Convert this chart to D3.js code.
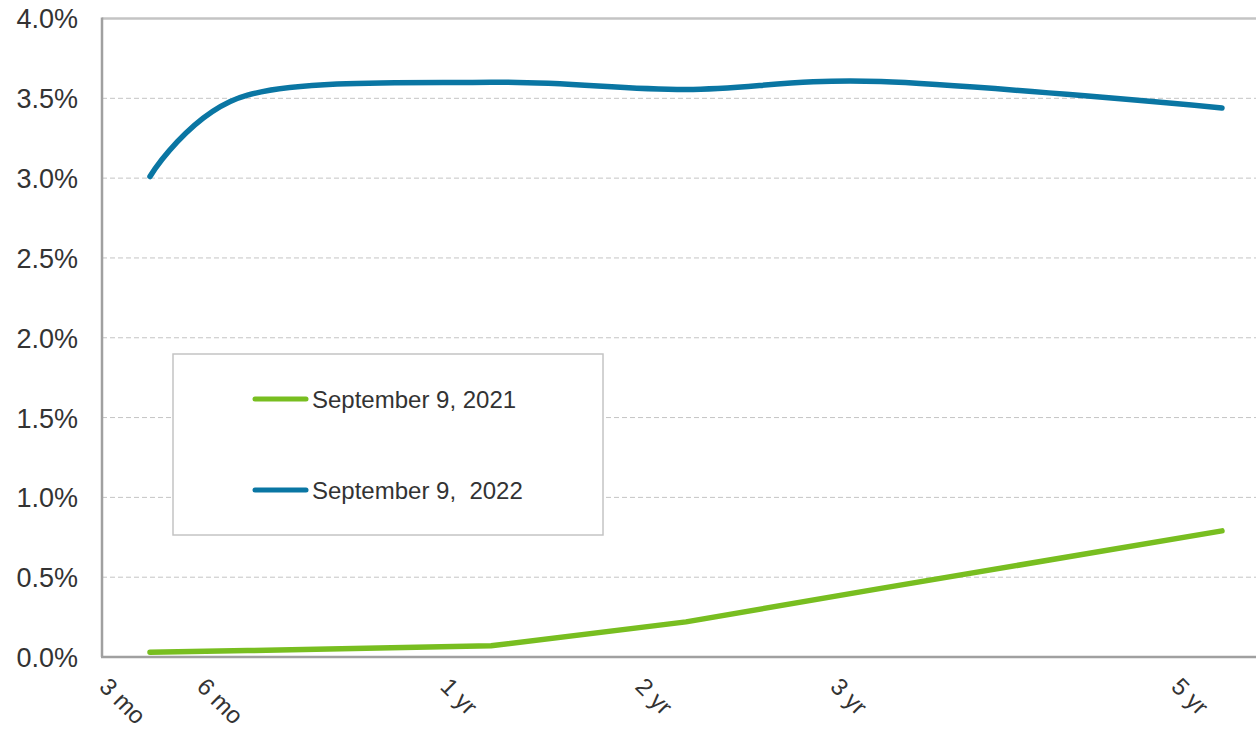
<!DOCTYPE html>
<html>
<head>
<meta charset="utf-8">
<script src="https://cdn.jsdelivr.net/npm/d3@7"></script>
<style>
  body { margin: 0; background: #fff; }
  text { font-family: "Liberation Sans", Arial, sans-serif; fill: #333; }
</style>
</head>
<body>
<div id="chart"></div>
<script>
// Tenors and where they sit on the chart's x axis
var tenors = ["3 mo", "6 mo", "1 yr", "2 yr", "3 yr", "5 yr"];
var tenorAxisValue = [0, 0.5, 1.75, 2.75, 3.75, 5.5];

// Yields in percent
var yields2021 = [0.03, 0.04, 0.07, 0.22, 0.43, 0.79];
var yields2022 = [3.01, 3.52, 3.60, 3.555, 3.605, 3.44];

var yTicks = [0, 0.5, 1, 1.5, 2, 2.5, 3, 3.5, 4];

var seriesNames = ["September 9, 2021", "September 9,  2022"];
var seriesColors = ["#78be20", "#0a76a3"];

var width = 1256, height = 731;
var plotLeft = 102, plotRight = 1256, plotTop = 18.5, plotBottom = 657;

var svg = d3.select('#chart')
    .append('svg')
    .attr('width', width)
    .attr('height', height);

var x = d3.scaleLinear()
    .domain([0, 5.5])
    .range([150, 1222]);

var y = d3.scaleLinear()
    .domain([0, 4])
    .range([plotBottom, plotTop]);

// gridlines
svg.append('g')
  .selectAll('line')
  .data(yTicks.filter(function(d){ return d > 0; }))
  .enter().append('line')
    .attr('x1', plotLeft)
    .attr('x2', plotRight)
    .attr('y1', function(d){ return y(d); })
    .attr('y2', function(d){ return y(d); })
    .style('stroke', '#c4c4c4')
    .style('stroke-width', function(d){ return d === 4 ? 2.5 : 1; })
    .style('stroke-dasharray', function(d){ return d === 4 ? null : '5,3'; });

// y axis labels
var yAxis = d3.axisLeft(y)
    .tickValues(yTicks)
    .tickSize(0)
    .tickPadding(24)
    .tickFormat(function(d){ return d3.format('.1f')(d) + '%'; });

var yg = svg.append('g')
    .attr('transform', 'translate(' + plotLeft + ',0)')
    .call(yAxis);
yg.select('.domain').remove();
yg.selectAll('text')
    .style('font-size', '27px')
    .style('fill', '#333')
    .attr('dy', '0.35em');

// axis lines
svg.append('line')
    .attr('x1', plotLeft).attr('x2', plotLeft)
    .attr('y1', plotTop - 1).attr('y2', plotBottom)
    .style('stroke', '#a0a0a0').style('stroke-width', 2.5);
svg.append('line')
    .attr('x1', plotLeft - 1).attr('x2', plotRight)
    .attr('y1', plotBottom).attr('y2', plotBottom)
    .style('stroke', '#a0a0a0').style('stroke-width', 2.5);

// x labels, rotated
svg.append('g')
  .selectAll('text')
  .data(tenors)
  .enter().append('text')
    .attr('transform', function(d, i){
      return 'translate(' + (x(tenorAxisValue[i]) - 52) + ',688) rotate(45)';
    })
    .style('font-size', '24px')
    .text(function(d){ return d; });

// lines
var line = d3.line()
    .x(function(d){ return x(d[0]); })
    .y(function(d){ return y(d[1]); });

svg.append('path')
    .datum(tenorAxisValue.map(function(v, i){ return [v, yields2021[i]]; }))
    .attr('d', line.curve(d3.curveLinear))
    .style('fill', 'none')
    .style('stroke', seriesColors[0])
    .style('stroke-width', 5.5)
    .style('stroke-linecap', 'round')
    .style('stroke-linejoin', 'round');

svg.append('path')
    .datum(tenorAxisValue.map(function(v, i){ return [v, yields2022[i]]; }))
    .attr('d', line.curve(d3.curveCardinal.tension(0)))
    .style('fill', 'none')
    .style('stroke', seriesColors[1])
    .style('stroke-width', 5.5)
    .style('stroke-linecap', 'round');

// legend
var legend = svg.append('g');
legend.append('rect')
    .attr('x', 173).attr('y', 354)
    .attr('width', 430).attr('height', 181)
    .style('fill', '#fff')
    .style('stroke', '#c4c4c4')
    .style('stroke-width', 1.5);

var items = legend.selectAll('g.item')
    .data(seriesNames)
  .enter().append('g')
    .attr('class', 'item')
    .attr('transform', function(d, i){ return 'translate(0,' + (399 + i * 91) + ')'; });
items.append('line')
    .attr('x1', 255).attr('x2', 306)
    .style('stroke', function(d, i){ return seriesColors[i]; })
    .style('stroke-width', 5)
    .style('stroke-linecap', 'round');
items.append('text')
    .attr('x', 312)
    .attr('dy', '0.38em')
    .attr('xml:space', 'preserve')
    .style('white-space', 'pre')
    .style('font-size', '24px')
    .text(function(d){ return d; });
</script>
</body>
</html>
